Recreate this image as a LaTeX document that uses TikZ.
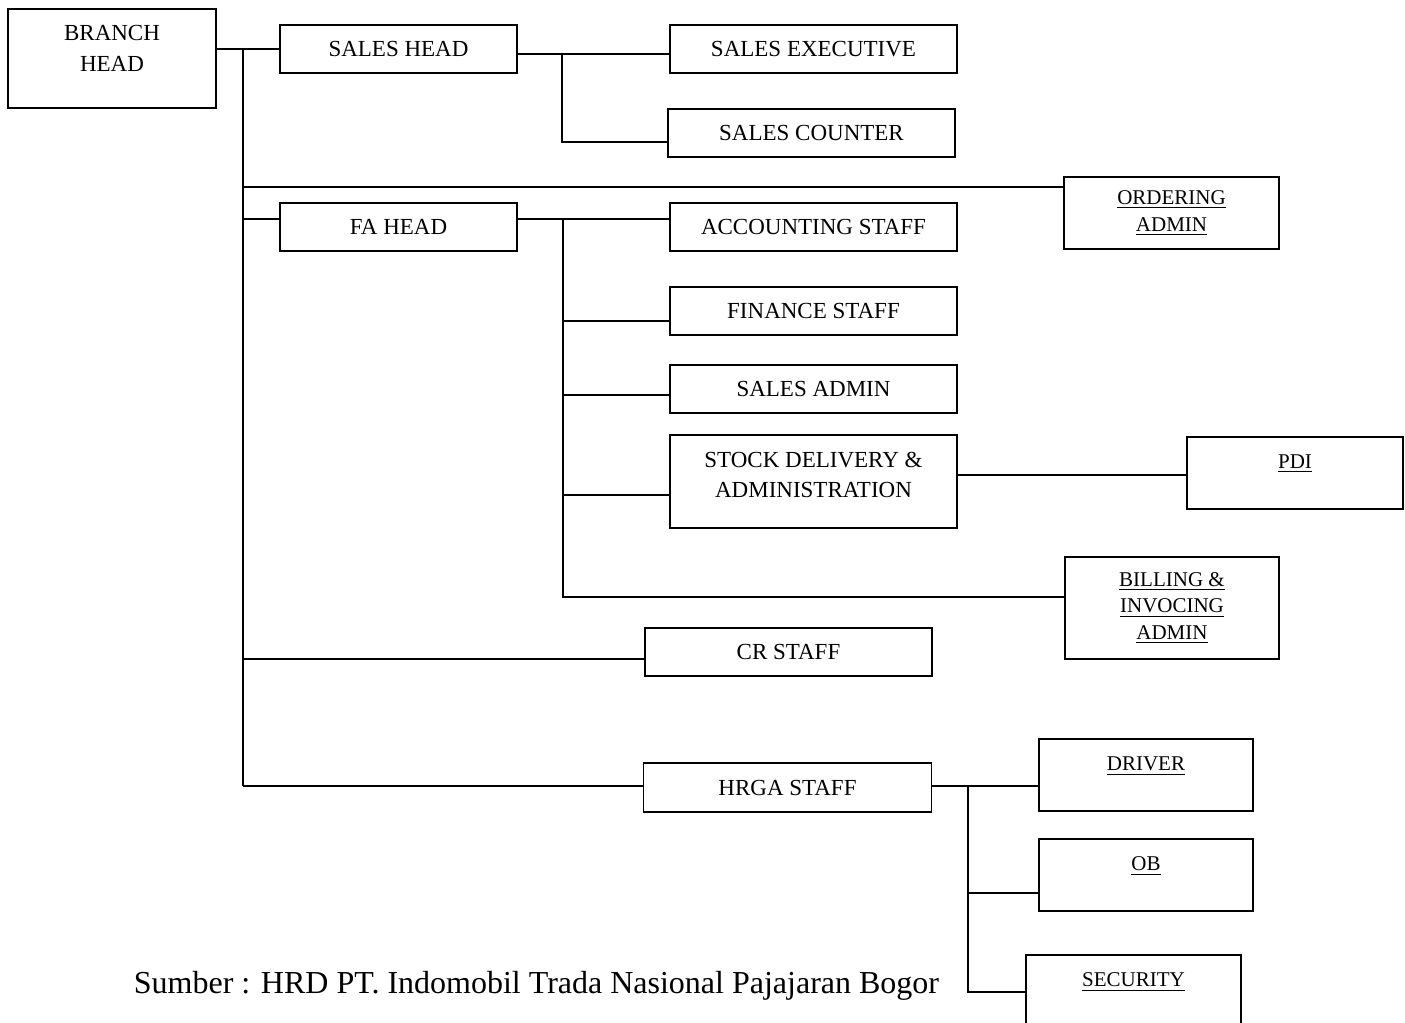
\documentclass[tikz,border=0pt]{standalone}
\usepackage{xcolor}
\usepackage{fontspec}
\setmainfont{Liberation Serif}

\begin{document}
\begin{tikzpicture}[x=0.5pt,y=-0.5pt,
  box/.style={draw=cbox,fill=cfbox,text=clbox,shape=rectangle,line width=0.65pt,inner sep=0pt,align=center,font=\fontsize{11.5}{15.2}\selectfont},
  boxu/.style={box,font=\fontsize{10.5}{13.3}\selectfont},
  edge/.style={draw=cedge,line width=0.65pt},
  source/.style={text=clbox,inner sep=0pt,font=\fontsize{16}{19}\selectfont}]
\definecolor{cbox}{rgb}{0.0,0.0,0.0}
\definecolor{cfbox}{rgb}{1.0,1.0,1.0}
\definecolor{clbox}{rgb}{0.0,0.0,0.0}
\definecolor{cedge}{rgb}{0.0,0.0,0.0}
\useasboundingbox (0,0) rectangle (1405,1023);
%
\node[box,minimum width=104pt,minimum height=49.5pt,text depth=10pt] (v0) at (112,58.5) {BRANCH\\HEAD};
\node[box,minimum width=118.5pt,minimum height=24pt] (v1) at (398.5,49) {SALES HEAD};
\node[box,minimum width=143.5pt,minimum height=24pt] (v2) at (813.5,49) {SALES EXECUTIVE};
\node[box,minimum width=143.5pt,minimum height=24pt] (v3) at (811.5,133) {SALES COUNTER};
\node[boxu,minimum width=107.5pt,minimum height=36pt] (v4) at (1171.5,213) {\underline{ORDERING}\\\underline{ADMIN}};
\node[box,minimum width=118.5pt,minimum height=24pt] (v5) at (398.5,227) {FA HEAD};
\node[box,minimum width=143.5pt,minimum height=24pt] (v6) at (813.5,227) {ACCOUNTING STAFF};
\node[box,minimum width=143.5pt,minimum height=24pt] (v7) at (813.5,311) {FINANCE STAFF};
\node[box,minimum width=143.5pt,minimum height=24pt] (v8) at (813.5,389) {SALES ADMIN};
\node[box,minimum width=143.5pt,minimum height=46.5pt,text depth=6.5pt] (v9) at (813.5,481.5) {STOCK DELIVERY \&\\ADMINISTRATION};
\node[boxu,minimum width=108pt,minimum height=36pt,text depth=11pt] (v10) at (1295,473) {\underline{PDI}};
\node[boxu,minimum width=107pt,minimum height=51pt] (v11) at (1172,608) {\underline{BILLING \&}\\\underline{INVOCING}\\\underline{ADMIN}};
\node[box,minimum width=143.5pt,minimum height=24pt] (v12) at (788.5,652) {CR STAFF};
\node[box,minimum width=144pt,minimum height=24.5pt] (v13) at (787.5,787.5) {HRGA STAFF};
\node[boxu,minimum width=107pt,minimum height=36pt,text depth=11pt] (v14) at (1146,775) {\underline{DRIVER}};
\node[boxu,minimum width=107pt,minimum height=36pt,text depth=11pt] (v15) at (1146,875) {\underline{OB}};
\node[boxu,minimum width=107.5pt,minimum height=36pt,text depth=11pt] (v16) at (1133.5,991) {\underline{SECURITY}};
\node[source] (v17) at (536.5,986) {Sumber : HRD PT. Indomobil Trada Nasional Pajajaran Bogor};
%
\coordinate (t0) at (243,49);
\coordinate (t1) at (243,786);
\coordinate (t2) at (243,187);
\coordinate (t3) at (243,219);
\coordinate (t4) at (243,659);
\coordinate (s0) at (562,54);
\coordinate (s1) at (562,142);
\coordinate (f0) at (563,219);
\coordinate (f1) at (563,321);
\coordinate (f2) at (563,395);
\coordinate (f3) at (563,495);
\coordinate (f4) at (563,597);
\coordinate (p0) at (1070,475);
\coordinate (h0) at (968,786);
\coordinate (h1) at (968,893);
\coordinate (h2) at (968,992);
%
\draw[edge] (v0.east |- t0) -- (v1.west |- t0);
\draw[edge] (t0) -- (t1);
\draw[edge] (v1.east |- s0) -- (v2.west |- s0);
\draw[edge] (s0) -- (s1) -- (v3.west |- s1);
\draw[edge] (t2) -- (v4.west |- t2);
\draw[edge] (t3) -- (v5.west |- t3);
\draw[edge] (v5.east |- f0) -- (v6.west |- f0);
\draw[edge] (f0) -- (f4) -- (v11.west |- f4);
\draw[edge] (f1) -- (v7.west |- f1);
\draw[edge] (f2) -- (v8.west |- f2);
\draw[edge] (f3) -- (v9.west |- f3);
\draw[edge] (v9.east |- p0) -- (v10.west |- p0);
\draw[edge] (t4) -- (v12.west |- t4);
\draw[edge] (t1) -- (v13.west |- t1);
\draw[edge] (v13.east |- h0) -- (v14.west |- h0);
\draw[edge] (h0) -- (h2) -- (v16.west |- h2);
\draw[edge] (h1) -- (v15.west |- h1);
%
\end{tikzpicture}
\end{document}
